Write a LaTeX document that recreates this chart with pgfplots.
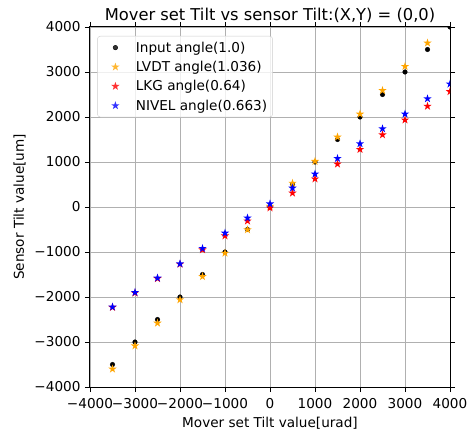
\documentclass[border=0pt]{standalone}
\usepackage{fontspec}
\setmainfont{DejaVu Sans}
\usepackage{pgfplots}
\pgfplotsset{compat=1.18}
\definecolor{mplorange}{HTML}{FFA500}
\definecolor{gridgray}{HTML}{B0B0B0}
\definecolor{legedge}{HTML}{CCCCCC}
\newcommand\tk{\fontsize{13.6}{16}\selectfont}
\pgfdeclareplotmark{fstar}{%
  \pgfpathmoveto{\pgfpointpolar{90}{\pgfplotmarksize}}%
  \pgfpathlineto{\pgfpointpolar{126}{0.382\pgfplotmarksize}}%
  \pgfpathlineto{\pgfpointpolar{162}{\pgfplotmarksize}}%
  \pgfpathlineto{\pgfpointpolar{198}{0.382\pgfplotmarksize}}%
  \pgfpathlineto{\pgfpointpolar{234}{\pgfplotmarksize}}%
  \pgfpathlineto{\pgfpointpolar{270}{0.382\pgfplotmarksize}}%
  \pgfpathlineto{\pgfpointpolar{306}{\pgfplotmarksize}}%
  \pgfpathlineto{\pgfpointpolar{342}{0.382\pgfplotmarksize}}%
  \pgfpathlineto{\pgfpointpolar{18}{\pgfplotmarksize}}%
  \pgfpathlineto{\pgfpointpolar{54}{0.382\pgfplotmarksize}}%
  \pgfpathclose
  \pgfusepathqfill
}
\begin{document}
\begin{tikzpicture}
\path[use as bounding box] (-90pt,-44pt) rectangle (380pt,387pt);
\begin{axis}[
  at={(0,0)}, anchor=south west,
  scale only axis, width=360pt, height=360pt,
  xmin=-4000, xmax=4000, ymin=-4000, ymax=4000,
  clip marker paths=true,
  xtick={-4000,-3000,...,4000},
  ytick={-4000,-3000,...,4000},
  xticklabels={−4000,−3000,−2000,−1000,0,1000,2000,3000,4000},
  yticklabels={−4000,−3000,−2000,−1000,0,1000,2000,3000,4000},
  tick align=outside, major tick length=5pt,
  tick style={black, line width=0.9pt},
  ticklabel style={font=\tk},
  xticklabel style={yshift=-3pt},
  yticklabel style={xshift=-1pt},
  axis line style={black, line width=1pt},
  grid=major, grid style={gridgray, line width=0.9pt},
  title={Mover set Tilt vs sensor Tilt:(X,Y) = (0,0)},
  title style={font=\fontsize{16.3}{19}\selectfont, yshift=-5pt},
  xlabel={Mover set Tilt value[urad]},
  ylabel={Sensor Tilt value[um]},
  label style={font=\tk},
  xlabel style={yshift=-1pt},
  ylabel style={yshift=2pt},
  legend style={at={(0.02,0.975)}, anchor=north west, draw=legedge, rounded corners=3pt,
    fill=white, fill opacity=0.8, text opacity=1, font=\tk, row sep=4.5pt, inner sep=4pt,
    nodes={inner sep=1.5pt}},
  legend cell align=left,
  legend image code/.code={\path[draw=none,fill=none] (0pt,0pt) rectangle (33pt,0.1pt); \draw[#1] plot coordinates {(14pt,0pt)};},
]
\addplot[only marks, mark=*, mark size=2.3pt, black] coordinates {
(-3500,-3500) (-3000,-3000) (-2500,-2500) (-2000,-2000) (-1500,-1500) (-1000,-1000) (-500,-500) (0,0)
(500,500) (1000,1000) (1500,1500) (2000,2000) (2500,2500) (3000,3000) (3500,3500) (4000,4000)};
\addlegendentry{Input angle(1.0)}
\addplot[only marks, mark=fstar, mark size=4.4pt, mplorange] coordinates {
(-3500,-3600) (-3000,-3085) (-2500,-2580) (-2000,-2060) (-1500,-1545) (-1000,-1025) (-500,-505) (0,15)
(500,530) (1000,1015) (1500,1555) (2000,2065) (2500,2590) (3000,3125) (3500,3645) (4000,4145)};
\addlegendentry{LVDT angle(1.036)}
\addplot[only marks, mark=fstar, mark size=4.4pt, red] coordinates {
(-3500,-2230) (-3000,-1910) (-2500,-1590) (-2000,-1270) (-1500,-950) (-1000,-640) (-500,-310) (0,-20)
(500,310) (1000,625) (1500,955) (2000,1280) (2500,1605) (3000,1935) (3500,2240) (4000,2565)};
\addlegendentry{LKG angle(0.64)}
\addplot[only marks, mark=fstar, mark size=4.4pt, blue] coordinates {
(-3500,-2222) (-3000,-1897) (-2500,-1578) (-2000,-1260) (-1500,-920) (-1000,-580) (-500,-244) (0,70)
(500,420) (1000,733) (1500,1080) (2000,1407) (2500,1740) (3000,2067) (3500,2407) (4000,2733)};
\addlegendentry{NIVEL angle(0.663)}
\end{axis}
\end{tikzpicture}
\end{document}
